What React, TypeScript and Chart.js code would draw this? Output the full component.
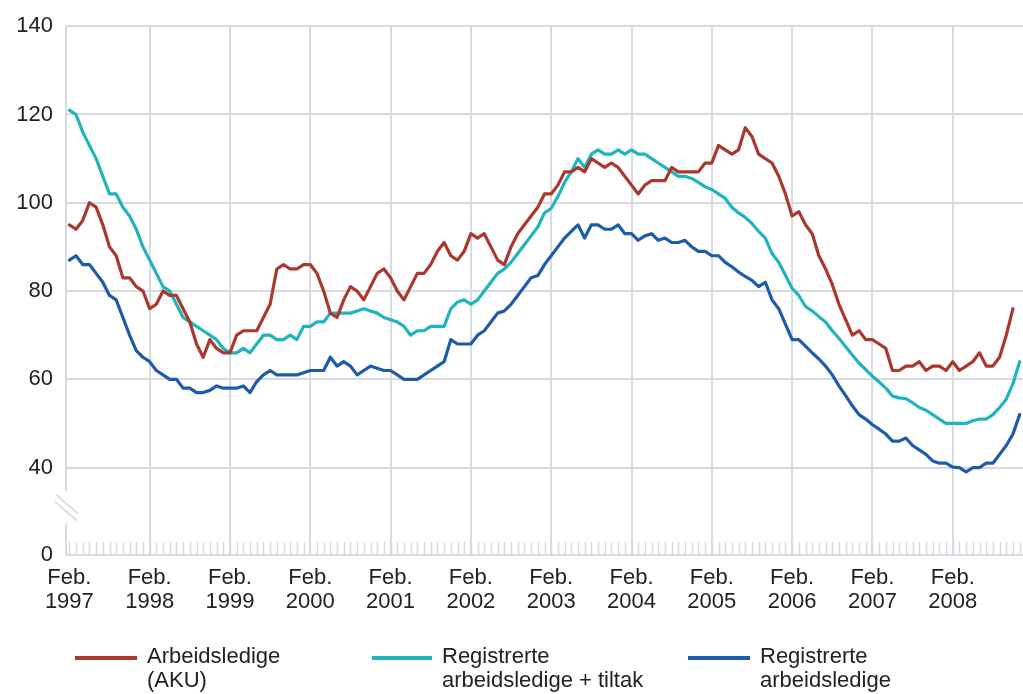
import { useEffect, useRef } from 'react';
import { Chart, registerables } from 'chart.js';

Chart.register(...registerables);

// ---- Data ----
const monthNames = ['Jan', 'Feb', 'Mar', 'Apr', 'May', 'Jun', 'Jul', 'Aug', 'Sep', 'Oct', 'Nov', 'Dec'];
const years = [1997, 1998, 1999, 2000, 2001, 2002, 2003, 2004, 2005, 2006, 2007, 2008];
const categories: string[] = [];
years.forEach((y) => monthNames.forEach((m, mi) => { if (!(y === 1997 && mi < 1)) categories.push(`${m} ${y}`); }));

const seriesLabels = [['Arbeidsledige', '(AKU)'], ['Registrerte', 'arbeidsledige + tiltak'], ['Registrerte', 'arbeidsledige']];

const aku: (number | null)[] = [
  95, 94, 96, 100, 99, 95, 90, 88, 83, 83, 81, 80,
  76, 77, 80, 79, 79, 76, 73, 68, 65, 69, 67, 66,
  66, 70, 71, 71, 71, 74, 77, 85, 86, 85, 85, 86,
  86, 84, 80, 75, 74, 78, 81, 80, 78, 81, 84, 85,
  83, 80, 78, 81, 84, 84, 86, 89, 91, 88, 87, 89,
  93, 92, 93, 90, 87, 86, 90, 93, 95, 97, 99, 102,
  102, 104, 107, 107, 108, 107, 110, 109, 108, 109, 108, 106,
  104, 102, 104, 105, 105, 105, 108, 107, 107, 107, 107, 109,
  109, 113, 112, 111, 112, 117, 115, 111, 110, 109, 106, 102,
  97, 98, 95, 93, 88, 85, 81.5, 77, 73.5, 70, 71, 69,
  69, 68, 67, 62, 62, 63, 63, 64, 62, 63, 63, 62,
  64, 62, 63, 64, 66, 63, 63, 65, 70, 76, null,
];

const regTiltak: number[] = [
  121, 120, 116, 113, 110, 106, 102, 102, 99, 97, 94, 90,
  87, 84, 81, 80, 77, 74, 73, 72, 71, 70, 69, 67,
  66, 66, 67, 66, 68, 70, 70, 69, 69, 70, 69, 72,
  72, 73, 73, 75, 75, 75, 75, 75.5, 76, 75.5, 75, 74,
  73.5, 73, 72, 70, 71, 71, 72, 72, 72, 76, 77.5, 78,
  77, 78, 80, 82, 84, 85, 86.5, 88.5, 90.5, 92.5, 94.5, 97.7,
  98.7, 101.4, 104.6, 107, 110, 108, 111, 112, 111, 111, 112, 111,
  112, 111, 111, 110, 109, 108, 107, 106, 106, 105.5, 104.6, 103.6,
  103, 102, 101, 99, 97.7, 96.7, 95.3, 93.5, 92, 88.5, 86.5, 83.6,
  80.6, 79, 76.5, 75.5, 74.2, 73, 71, 69.3, 67.4, 65.5, 63.7, 62.2,
  60.7, 59.4, 58, 56.2, 55.8, 55.6, 54.7, 53.6, 53, 52, 51, 50,
  50, 50, 50, 50.6, 51, 51, 52, 53.6, 55.5, 59, 64,
];

const registrerte: number[] = [
  87, 88, 86, 86, 84, 82, 79, 78, 74, 70, 66.5, 65,
  64, 62, 61, 60, 60, 58, 58, 57, 57, 57.5, 58.5, 58,
  58, 58, 58.5, 57, 59.5, 61, 62, 61, 61, 61, 61, 61.5,
  62, 62, 62, 65, 63, 64, 63, 61, 62, 63, 62.5, 62,
  62, 61, 60, 60, 60, 61, 62, 63, 64, 69, 68, 68,
  68, 70, 71, 73, 75, 75.5, 77, 79, 81, 83, 83.5, 86,
  88, 90, 92, 93.5, 95, 92, 95, 95, 94, 94, 95, 93,
  93, 91.5, 92.5, 93, 91.5, 92, 91, 91, 91.5, 90, 89, 89,
  88, 88, 86.5, 85.5, 84.3, 83.3, 82.4, 81, 82, 78, 76, 72.5,
  69, 69, 67.5, 66, 64.6, 63, 61, 58.5, 56.3, 54, 52, 51,
  49.7, 48.7, 47.6, 46, 46, 46.7, 45, 44, 43, 41.5, 41, 41,
  40.1, 40, 39, 40, 40, 41, 41, 43, 45, 47.6, 52,
];

const yTickValues = [40, 60, 80, 100, 120, 140];
const yZeroLabel = '0';
const yAxisMin = 20.2; // broken axis: bottom of axis shows "0"
const yAxisMax = 140;

// ---- Styles ----
const colors = ['#a9382f', '#1fb4be', '#1f5ca8'];
const gridColor = '#d8dae2';
const textColor = '#222222';
const fontFamily = "'Liberation Sans', Arial, Helvetica, sans-serif";
const fontSize = 22;

const decorPlugin = {
  id: 'decor',
  beforeDatasetsDraw(chart: any) {
    const { ctx, chartArea, scales } = chart;
    const { left, top, bottom } = chartArea;
    const x = scales.x;
    const y = scales.y;
    ctx.save();
    ctx.strokeStyle = gridColor;
    ctx.lineWidth = 1.5;
    // month ticks along bottom
    for (let i = 0; i < categories.length; i++) {
      const px = Math.round(x.getPixelForValue(i)) + 0.5;
      ctx.beginPath();
      ctx.moveTo(px, bottom - 13);
      ctx.lineTo(px, bottom);
      ctx.stroke();
    }
    // broken left axis
    const y40 = y.getPixelForValue(40);
    const b1 = y40 + 23;
    const b2 = y40 + 56;
    ctx.lineWidth = 2;
    ctx.beginPath();
    ctx.moveTo(left, top);
    ctx.lineTo(left, b1);
    ctx.moveTo(left, b2);
    ctx.lineTo(left, bottom);
    ctx.stroke();
    ctx.lineWidth = 1.5;
    ctx.beginPath();
    ctx.moveTo(left - 10, b1 + 4);
    ctx.lineTo(left + 12, b1 + 23);
    ctx.moveTo(left - 11, b1 + 11);
    ctx.lineTo(left + 11, b1 + 30);
    ctx.stroke();
    ctx.restore();
  },
  afterDraw(chart: any) {
    const { ctx } = chart;
    const items = [
      { x0: 75, x1: 137, tx: 147 },
      { x0: 372, x1: 432, tx: 442 },
      { x0: 688, x1: 750, tx: 760 },
    ];
    ctx.save();
    ctx.font = `${fontSize}px ${fontFamily}`;
    ctx.textBaseline = 'middle';
    ctx.fillStyle = textColor;
    items.forEach((it, i) => {
      ctx.strokeStyle = colors[i];
      ctx.lineWidth = 4;
      ctx.beginPath();
      ctx.moveTo(it.x0, 658);
      ctx.lineTo(it.x1, 658);
      ctx.stroke();
      seriesLabels[i].forEach((line, li) => {
        ctx.fillText(line, it.tx, 657 + li * 24);
      });
    });
    ctx.restore();
  },
};

export default function App() {
  const canvasRef = useRef<HTMLCanvasElement | null>(null);

  useEffect(() => {
    const canvas = canvasRef.current;
    if (!canvas) return;
    const chart = new Chart(canvas, {
      type: 'line',
      data: {
        labels: categories,
        datasets: [aku, regTiltak, registrerte].map((d, i) => ({
          label: seriesLabels[i].join(' '),
          data: d,
          borderColor: colors[i],
          backgroundColor: colors[i],
          borderWidth: 3.2,
          pointRadius: 0,
          tension: 0,
          spanGaps: false,
          borderJoinStyle: 'round' as const,
          borderCapStyle: 'round' as const,
        })),
      },
      options: {
        responsive: false,
        animation: false,
        layout: { padding: { top: 22, right: 0, left: 0, bottom: 0 } },
        plugins: { legend: { display: false }, tooltip: { enabled: false } },
        scales: {
          x: {
            type: 'category',
            offset: true,
            border: { display: false },
            grid: {
              offset: false,
              drawTicks: false,
              lineWidth: 2,
              color: (c: any) => (c.index > 0 && c.index % 12 === 0 ? gridColor : 'rgba(0,0,0,0)'),
            },
            ticks: {
              autoSkip: false,
              maxRotation: 0,
              minRotation: 0,
              padding: 11,
              color: textColor,
              font: { family: fontFamily, size: fontSize, lineHeight: 1.08 },
              callback: (_v: any, idx: number) =>
                idx % 12 === 0 ? ['Feb.', String(years[idx / 12])] : '',
            },
            afterFit: (scale: any) => {
              scale.height = 694 - 555;
              scale.paddingRight = 0;
              scale.paddingLeft = 0;
            },
          },
          y: {
            min: yAxisMin,
            max: yAxisMax,
            border: { display: false },
            grid: { color: gridColor, lineWidth: 2, drawTicks: false },
            afterBuildTicks: (scale: any) => {
              scale.ticks = [yAxisMin, ...yTickValues].map((v) => ({ value: v }));
            },
            ticks: {
              padding: 13,
              color: textColor,
              font: { family: fontFamily, size: fontSize },
              callback: (v: any) => (v === yAxisMin ? yZeroLabel : String(v)),
            },
            afterFit: (scale: any) => { scale.width = 66; },
          },
        },
      },
      plugins: [decorPlugin],
    });
    return () => chart.destroy();
  }, []);

  return (
    <div style={{ position: 'fixed', left: 0, top: 0, width: 1023, height: 694, background: '#fff' }}>
      <canvas ref={canvasRef} width={1023} height={694} />
    </div>
  );
}
